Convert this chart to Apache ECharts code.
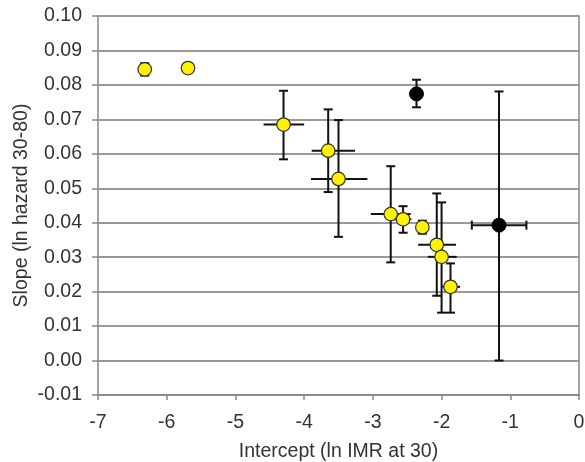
<!DOCTYPE html>
<html>
<head>
<meta charset="utf-8">
<script src="https://cdn.jsdelivr.net/npm/echarts@6/dist/echarts.min.js"></script>
<style>
html,body{margin:0;padding:0;background:#fff;}
#chart{width:585px;height:462px;}
</style>
</head>
<body>
<div id="chart"></div>
<script>
// Yellow points
var yellowX     = [-6.32, -5.69, -4.30, -3.65, -3.50, -2.74, -2.56, -2.28, -2.07, -2.00, -1.87];
var yellowY     = [0.0845, 0.0849, 0.0685, 0.0609, 0.0527, 0.0425, 0.0410, 0.0387, 0.0336, 0.0301, 0.0214];
var yellowXLow  = [null, null, -4.59, -3.89, -3.90, -3.03, -2.69, null, -2.34, -2.20, -2.00];
var yellowXHigh = [null, null, -4.00, -3.26, -3.08, -2.45, -2.44, null, -1.79, -1.78, -1.73];
var yellowYLow  = [0.0827, null, 0.0584, 0.0489, 0.0359, 0.0285, 0.0371, 0.0368, 0.0188, 0.0139, 0.0139];
var yellowYHigh = [0.0863, null, 0.0783, 0.0729, 0.0698, 0.0564, 0.0448, 0.0406, 0.0485, 0.0459, 0.0282];
// Black points
var blackX     = [-2.365, -1.164];
var blackY     = [0.0774, 0.0393];
var blackXLow  = [null, -1.56];
var blackXHigh = [null, -0.765];
var blackYLow  = [0.0735, 0.0000];
var blackYHigh = [0.0815, 0.0781];
// Axis ticks
var xTicks = [-7, -6, -5, -4, -3, -2, -1, 0];
var yTicks = [-0.01, 0.00, 0.01, 0.02, 0.03, 0.04, 0.05, 0.06, 0.07, 0.08, 0.09, 0.10];

function rows(x, y, xl, xh, yl, yh) {
  var out = [];
  for (var i = 0; i < x.length; i++) out.push([x[i], y[i], xl[i], xh[i], yl[i], yh[i]]);
  return out;
}
var yellowRows = rows(yellowX, yellowY, yellowXLow, yellowXHigh, yellowYLow, yellowYHigh);
var blackRows = rows(blackX, blackY, blackXLow, blackXHigh, blackYLow, blackYHigh);

function errRender(xCaps) {
  return function (params, api) {
    var x = api.value(0), y = api.value(1);
    var xl = api.value(2), xh = api.value(3), yl = api.value(4), yh = api.value(5);
    var children = [];
    var st = { stroke: '#111', lineWidth: 2 };
    var cap = 4.5;
    function line(p1, p2) {
      children.push({ type: 'line', shape: { x1: p1[0], y1: p1[1], x2: p2[0], y2: p2[1] }, style: st });
    }
    if (yl != null && !isNaN(yl) && yh != null && !isNaN(yh)) {
      var a = api.coord([x, yl]), b = api.coord([x, yh]);
      line(a, b);
      line([a[0] - cap, a[1]], [a[0] + cap, a[1]]);
      line([b[0] - cap, b[1]], [b[0] + cap, b[1]]);
    }
    if (xl != null && !isNaN(xl) && xh != null && !isNaN(xh)) {
      var c = api.coord([xl, y]), d = api.coord([xh, y]);
      line(c, d);
      if (xCaps) {
        line([c[0], c[1] - cap], [c[0], c[1] + cap]);
        line([d[0], d[1] - cap], [d[0], d[1] + cap]);
      }
    }
    return { type: 'group', children: children };
  };
}

var chart = echarts.init(document.getElementById('chart'), null, { renderer: 'canvas' });
var font = 'Liberation Sans, Arial, sans-serif';
chart.setOption({
  animation: false,
  backgroundColor: '#fff',
  grid: { left: 98, right: 6, top: 16, bottom: 67, containLabel: false, outerBoundsMode: 'none' },
  xAxis: [{
    type: 'value', min: xTicks[0], max: xTicks[xTicks.length - 1], interval: 1,
    name: 'Intercept (ln IMR at 30)', nameLocation: 'middle', nameGap: 47,
    nameTextStyle: { fontFamily: font, fontSize: 19.5, color: '#333' },
    axisLine: { show: true, onZero: false, lineStyle: { color: '#888', width: 1.5 } },
    axisTick: { show: true, inside: false, length: 5, lineStyle: { color: '#888', width: 1.5 } },
    axisLabel: { fontFamily: font, fontSize: 19.5, color: '#333', margin: 18 },
    splitLine: { show: false }
  }],
  yAxis: [{
    type: 'value', min: yTicks[0], max: yTicks[yTicks.length - 1], interval: 0.01,
    name: 'Slope (ln hazard 30-80)', nameLocation: 'middle', nameGap: 66, nameRotate: 90,
    nameMoveOverlap: false,
    nameTextStyle: { fontFamily: font, fontSize: 19.5, color: '#333' },
    axisLine: { show: true, onZero: false, lineStyle: { color: '#888', width: 1.5 } },
    axisTick: { show: true, inside: false, length: 6, lineStyle: { color: '#888', width: 1.5 } },
    axisLabel: { fontFamily: font, fontSize: 19.5, color: '#333', margin: 16,
      formatter: function (v) { return (Math.round(v * 100) / 100).toFixed(2); } },
    splitLine: { show: true, lineStyle: { color: '#999', width: 2 } }
  }, {
    type: 'value', position: 'right', min: yTicks[0], max: yTicks[yTicks.length - 1], interval: 0.01,
    axisLine: { show: true, onZero: false, lineStyle: { color: '#888', width: 1.5 } },
    axisTick: { show: false }, axisLabel: { show: false }, splitLine: { show: false }
  }],
  series: [
    { type: 'custom', renderItem: errRender(false), data: yellowRows, z: 2,
      encode: { x: [0, 2, 3], y: [1, 4, 5] } },
    { type: 'custom', renderItem: errRender(true), data: blackRows, z: 2,
      encode: { x: [0, 2, 3], y: [1, 4, 5] } },
    { type: 'scatter', data: yellowRows.map(function (r) { return [r[0], r[1]]; }), z: 5,
      symbol: 'circle', symbolSize: 13.5,
      itemStyle: { color: '#fff200', borderColor: '#333', borderWidth: 1.2, opacity: 1 } },
    { type: 'scatter', data: blackRows.map(function (r) { return [r[0], r[1]]; }), z: 5,
      symbol: 'circle', symbolSize: 14,
      itemStyle: { color: '#000', borderColor: '#000', borderWidth: 1, opacity: 1 } }
  ]
});
</script>
</body>
</html>
